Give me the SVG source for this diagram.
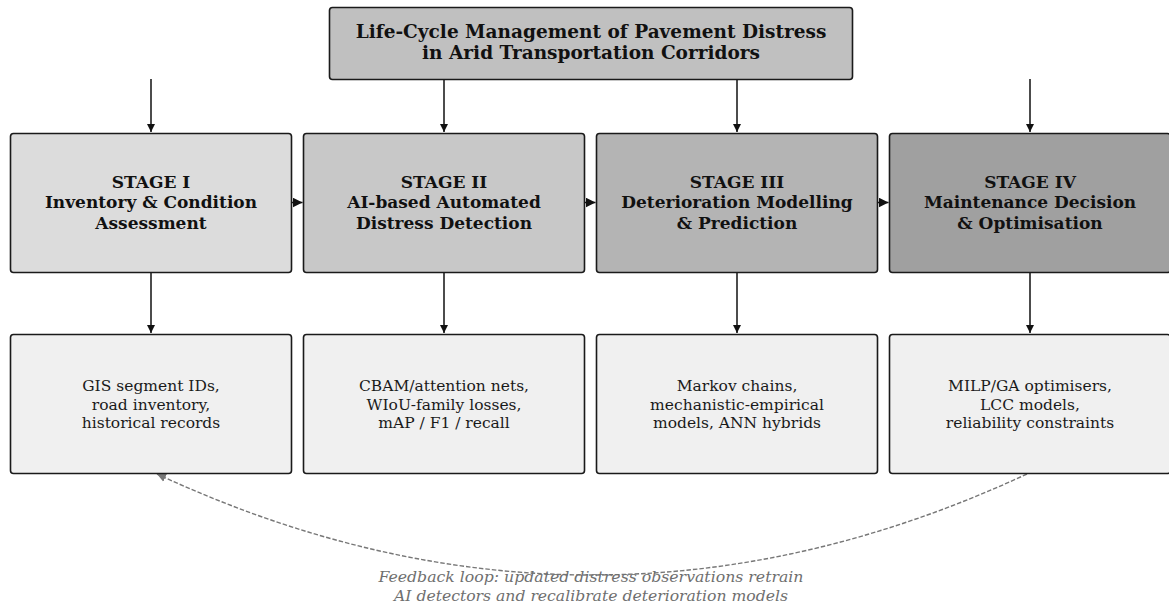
<svg xmlns="http://www.w3.org/2000/svg" width="1169" height="607" viewBox="0 0 1169 607">
<style>
.box{stroke:#1a1a1a;stroke-width:1.6}
.title{font-family:"DejaVu Serif",serif;font-weight:bold;font-size:18.5px;fill:#111;text-anchor:middle}
.stage{font-family:"DejaVu Serif",serif;font-weight:bold;font-size:17px;fill:#111;text-anchor:middle}
.detail{font-family:"DejaVu Serif",serif;font-size:15.5px;fill:#1a1a1a;text-anchor:middle}
.fb{font-family:"DejaVu Serif Condensed","DejaVu Serif",serif;font-style:italic;font-stretch:condensed;font-size:15px;fill:#6f6f6f;text-anchor:middle}
.arr{stroke:#111;stroke-width:1.5;fill:none}
</style>
<defs>
<marker id="ah" viewBox="0 0 10 10" refX="10" refY="5" markerWidth="8" markerHeight="8" markerUnits="userSpaceOnUse" orient="auto">
<path d="M0,0 L10,5 L0,10 Z" fill="#111"/>
</marker>
<marker id="ahs" viewBox="0 0 10 10" refX="10" refY="5" markerWidth="10" markerHeight="10" markerUnits="userSpaceOnUse" orient="auto">
<path d="M0,0 L10,5 L0,10 Z" fill="#111"/>
</marker>
<marker id="ahg" viewBox="0 0 10 10" refX="10" refY="5" markerWidth="9" markerHeight="9" markerUnits="userSpaceOnUse" orient="auto">
<path d="M0,0 L10,5 L0,10 Z" fill="#777"/>
</marker>
</defs>
<rect width="1169" height="607" fill="#ffffff"/>

<g id="connectors">
<line class="arr" x1="151" y1="79" x2="151" y2="132" marker-end="url(#ah)"/>
<line class="arr" x1="444" y1="80" x2="444" y2="132" marker-end="url(#ah)"/>
<line class="arr" x1="737" y1="80" x2="737" y2="132" marker-end="url(#ah)"/>
<line class="arr" x1="1030" y1="79" x2="1030" y2="132" marker-end="url(#ah)"/>
<line class="arr" x1="292" y1="202.5" x2="302.5" y2="202.5" marker-end="url(#ahs)"/>
<line class="arr" x1="585" y1="202.5" x2="595.5" y2="202.5" marker-end="url(#ahs)"/>
<line class="arr" x1="878" y1="202.5" x2="888.5" y2="202.5" marker-end="url(#ahs)"/>
<line class="arr" x1="151" y1="273" x2="151" y2="333" marker-end="url(#ah)"/>
<line class="arr" x1="444" y1="273" x2="444" y2="333" marker-end="url(#ah)"/>
<line class="arr" x1="737" y1="273" x2="737" y2="333" marker-end="url(#ah)"/>
<line class="arr" x1="1030" y1="273" x2="1030" y2="333" marker-end="url(#ah)"/>
<path d="M1027,474 Q592,676 157,474" fill="none" stroke="#777" stroke-width="1.4" stroke-dasharray="4.5,2" marker-end="url(#ahg)"/>
</g>

<g id="title">
<rect class="box" x="329.5" y="7.5" width="523" height="72" rx="3" fill="#c0c0c0"/>
<text class="title" x="591" y="38">Life-Cycle Management of Pavement Distress</text>
<text class="title" x="591" y="59">in Arid Transportation Corridors</text>
</g>

<g id="stage1">
<rect class="box" x="10.5" y="133.5" width="281" height="139" rx="3" fill="#dcdcdc"/>
<text class="stage" x="151" y="187.5">STAGE I</text>
<text class="stage" x="151" y="208.3">Inventory &amp; Condition</text>
<text class="stage" x="151" y="229">Assessment</text>
</g>
<g id="stage2">
<rect class="box" x="303.5" y="133.5" width="281" height="139" rx="3" fill="#c8c8c8"/>
<text class="stage" x="444" y="187.5">STAGE II</text>
<text class="stage" x="444" y="208.3">AI-based Automated</text>
<text class="stage" x="444" y="229">Distress Detection</text>
</g>
<g id="stage3">
<rect class="box" x="596.5" y="133.5" width="281" height="139" rx="3" fill="#b4b4b4"/>
<text class="stage" x="737" y="187.5">STAGE III</text>
<text class="stage" x="737" y="208.3">Deterioration Modelling</text>
<text class="stage" x="737" y="229">&amp; Prediction</text>
</g>
<g id="stage4">
<rect class="box" x="889.5" y="133.5" width="281" height="139" rx="3" fill="#a0a0a0"/>
<text class="stage" x="1030" y="187.5">STAGE IV</text>
<text class="stage" x="1030" y="208.3">Maintenance Decision</text>
<text class="stage" x="1030" y="229">&amp; Optimisation</text>
</g>

<g id="detail1">
<rect class="box" x="10.5" y="334.5" width="281" height="139" rx="3" fill="#f0f0f0"/>
<text class="detail" x="151" y="391">GIS segment IDs,</text>
<text class="detail" x="151" y="409.5">road inventory,</text>
<text class="detail" x="151" y="428">historical records</text>
</g>
<g id="detail2">
<rect class="box" x="303.5" y="334.5" width="281" height="139" rx="3" fill="#f0f0f0"/>
<text class="detail" x="444" y="391">CBAM/attention nets,</text>
<text class="detail" x="444" y="409.5">WIoU-family losses,</text>
<text class="detail" x="444" y="428">mAP / F1 / recall</text>
</g>
<g id="detail3">
<rect class="box" x="596.5" y="334.5" width="281" height="139" rx="3" fill="#f0f0f0"/>
<text class="detail" x="737" y="391">Markov chains,</text>
<text class="detail" x="737" y="409.5">mechanistic-empirical</text>
<text class="detail" x="737" y="428">models, ANN hybrids</text>
</g>
<g id="detail4">
<rect class="box" x="889.5" y="334.5" width="281" height="139" rx="3" fill="#f0f0f0"/>
<text class="detail" x="1030" y="391">MILP/GA optimisers,</text>
<text class="detail" x="1030" y="409.5">LCC models,</text>
<text class="detail" x="1030" y="428">reliability constraints</text>
</g>

<g id="feedback-label">
<text class="fb" x="591" y="582" textLength="425" lengthAdjust="spacingAndGlyphs">Feedback loop: updated distress observations retrain</text>
<text class="fb" x="591" y="601" textLength="394" lengthAdjust="spacingAndGlyphs">AI detectors and recalibrate deterioration models</text>
</g>
</svg>
